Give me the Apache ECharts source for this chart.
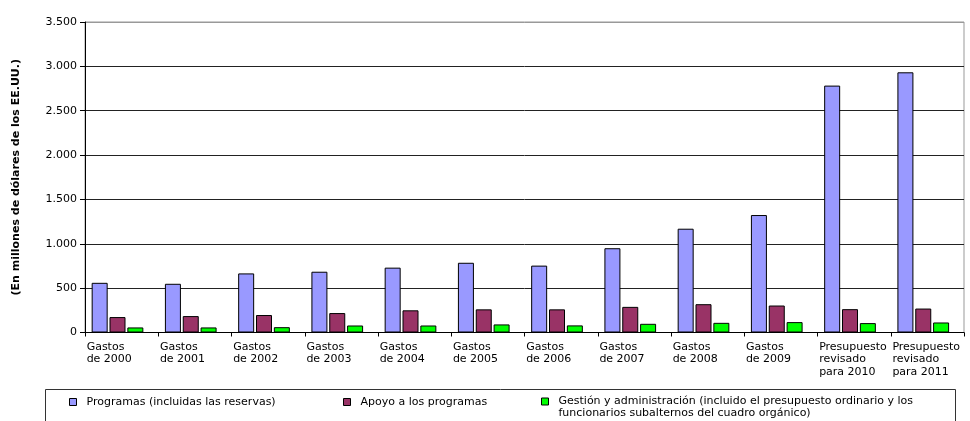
<!DOCTYPE html>
<html>
<head>
<meta charset="utf-8">
<script src="https://cdn.jsdelivr.net/npm/echarts@6/dist/echarts.min.js"></script>
<style>
  html, body { margin: 0; padding: 0; background: #fff; }
  #chart { width: 970px; height: 421px; }
</style>
</head>
<body>
<div id="chart"></div>
<script>
// categories (line breaks as in the original labels)
const categories = [
    'Gastos\nde 2000', 'Gastos\nde 2001', 'Gastos\nde 2002', 'Gastos\nde 2003',
    'Gastos\nde 2004', 'Gastos\nde 2005', 'Gastos\nde 2006', 'Gastos\nde 2007',
    'Gastos\nde 2008', 'Gastos\nde 2009',
    'Presupuesto\nrevisado\npara 2010', 'Presupuesto\nrevisado\npara 2011'
];

// values in millions of US dollars
const programas = [560, 549, 666, 685, 731, 786, 754, 950, 1170, 1324, 2783, 2933];
const apoyo     = [174, 185, 197, 219, 250, 261, 261, 289, 319, 304, 263, 270];
const gestion   = [57, 57, 60, 79, 79, 91, 80, 98, 109, 117, 106, 113];

const seriesNames = [
    'Programas (incluidas las reservas)',
    'Apoyo a los programas',
    'Gestión y administración (incluido el presupuesto ordinario y los funcionarios subalternos del cuadro orgánico)'
];

const yTicks = [0, 500, 1000, 1500, 2000, 2500, 3000, 3500];

const FONT = '"DejaVu Sans", "Liberation Sans", Arial, sans-serif';

function fmtThousands(v) {
    return String(v).replace(/\B(?=(\d{3})+(?!\d))/g, '.');
}

const chart = echarts.init(document.getElementById('chart'));

const barBase = {
    type: 'bar',
    barWidth: 16,
    barGap: '11.5%',
    barCategoryGap: 0,
};

function legendFor(i, left, extra) {
    return Object.assign({
        data: [seriesNames[i]],
        left: left,
        top: 396.5,
        padding: 0,
        icon: 'rect',
        itemWidth: 7,
        itemHeight: 7,
        itemStyle: { borderColor: '#000', borderWidth: 1 },
        selectedMode: false,
        textStyle: { fontFamily: FONT, fontSize: 11, color: '#000', padding: [0, 0, 0, 5] }
    }, extra || {});
}

const option = {
    animation: false,
    textStyle: { fontFamily: FONT },
    grid: {
        left: 85,
        right: 6,
        top: 22,
        bottom: 88.5,
        show: true,
        borderColor: '#999',
        borderWidth: 1
    },
    legend: [
        legendFor(0, 69),
        legendFor(1, 343),
        legendFor(2, 541, {
            top: 395.5,
            // first line carries the line spacing so the icon lines up with it
            formatter: function (name) {
                const parts = name.split(' y los ');
                return '{a|' + parts[0] + ' y los}\n{b|' + parts[1] + '}';
            },
            textStyle: {
                fontFamily: FONT, fontSize: 11, color: '#000', padding: [0, 0, 0, 5],
                rich: {
                    a: { fontFamily: FONT, fontSize: 11, color: '#000', lineHeight: 24 },
                    b: { fontFamily: FONT, fontSize: 11, color: '#000', lineHeight: 1 }
                }
            }
        })
    ],
    graphic: [{
        type: 'rect',
        left: 43,
        top: 387,
        shape: { width: 910, height: 60 },
        style: { fill: 'none', stroke: '#333', lineWidth: 1 }
    }],
    xAxis: {
        type: 'category',
        data: categories,
        axisLine: { lineStyle: { color: '#000', width: 1 } },
        axisTick: { show: true, length: 4, lineStyle: { color: '#000' } },
        axisLabel: {
            interval: 0,
            margin: 8,
            color: '#000',
            fontSize: 11,
            formatter: function (v) {
                return v.split('\n').map(s => '{a|' + s + '}').join('\n');
            },
            rich: {
                a: { width: 70, align: 'left', fontSize: 11, lineHeight: 12.5, fontFamily: FONT, color: '#000' }
            }
        },
        splitLine: { show: false }
    },
    yAxis: {
        type: 'value',
        min: 0,
        max: 3500,
        interval: 500,
        name: '(En millones de dólares de los EE.UU.)',
        nameLocation: 'middle',
        nameRotate: 90,
        nameGap: 63,
        nameTextStyle: { fontFamily: FONT, fontSize: 11, fontWeight: 'bold', color: '#000' },
        axisLine: { show: true, lineStyle: { color: '#000', width: 1 } },
        axisTick: { show: true, length: 5, lineStyle: { color: '#000' } },
        axisLabel: {
            margin: 8,
            color: '#000',
            fontSize: 11,
            formatter: function (v) {
                return yTicks.indexOf(v) >= 0 ? fmtThousands(v) : '';
            }
        },
        splitLine: {
            show: true,
            lineStyle: { color: ['#222', '#222', '#222', '#222', '#222', '#222', '#222', '#999'], width: 1 }
        }
    },
    series: [
        Object.assign({}, barBase, {
            name: seriesNames[0],
            data: programas,
            itemStyle: { color: '#9999FF', borderColor: '#000', borderWidth: 1 }
        }),
        Object.assign({}, barBase, {
            name: seriesNames[1],
            data: apoyo,
            itemStyle: { color: '#993366', borderColor: '#000', borderWidth: 1 }
        }),
        Object.assign({}, barBase, {
            name: seriesNames[2],
            data: gestion,
            itemStyle: { color: '#00FF00', borderColor: '#000', borderWidth: 1 }
        }),
        // empty spacer so the bar group sits left of the category centre, as in the original
        Object.assign({}, barBase, {
            name: 'spacer',
            barWidth: 6.4,
            data: categories.map(() => null),
            itemStyle: { color: 'transparent' },
            silent: true
        })
    ]
};

chart.setOption(option);
</script>
</body>
</html>
